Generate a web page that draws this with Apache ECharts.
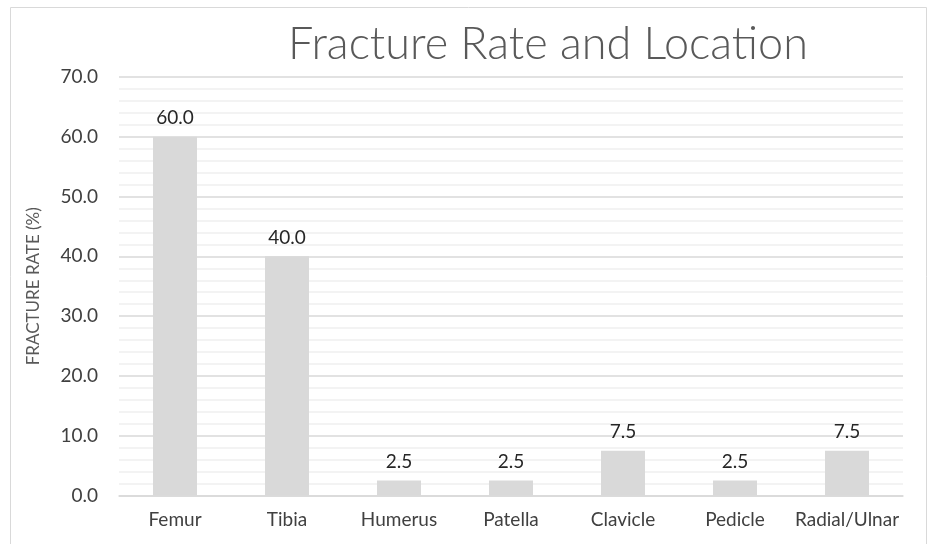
<!DOCTYPE html>
<html>
<head>
<meta charset="utf-8">
<script src="https://cdn.jsdelivr.net/npm/echarts@6/dist/echarts.min.js"></script>
<style>
  html, body { margin: 0; padding: 0; background: #fff; }
  #chart { width: 929px; height: 544px; }
</style>
</head>
<body>
<div id="chart"></div>
<script>
const categories = ['Femur', 'Tibia', 'Humerus', 'Patella', 'Clavicle', 'Pedicle', 'Radial/Ulnar'];
const fractureRate = [60.0, 40.0, 2.5, 2.5, 7.5, 2.5, 7.5];

const chart = echarts.init(document.getElementById('chart'));
const font = "Lato, 'Open Sans', sans-serif";

chart.setOption({
  animation: false,
  title: {
    text: 'Fracture Rate and Location',
    left: 543,
    textAlign: 'center',
    top: 17,
    textStyle: { fontFamily: font, fontSize: 45, fontWeight: 300, color: '#595959' }
  },
  graphic: [{
    type: 'rect',
    shape: { x: 10.5, y: 7.5, width: 916, height: 600 },
    style: { fill: 'none', stroke: '#d9d9d9', lineWidth: 1 },
    silent: true
  }],
  grid: { left: 119, right: 26, top: 77, bottom: 48.5 },
  xAxis: {
    type: 'category',
    data: categories,
    axisTick: { show: false },
    axisLine: { lineStyle: { color: '#d9d9d9', width: 1.5 } },
    axisLabel: { interval: 0, color: '#404040', fontFamily: font, fontSize: 19, margin: 15 }
  },
  yAxis: {
    type: 'value',
    min: 0,
    max: 70,
    interval: 10,
    name: 'FRACTURE RATE (%)',
    nameLocation: 'middle',
    nameGap: 77,
    nameTextStyle: { color: '#595959', fontFamily: font, fontSize: 17 },
    axisLabel: {
      color: '#404040', fontFamily: font, fontSize: 19, margin: 21,
      formatter: v => v.toFixed(1)
    },
    splitLine: { lineStyle: { color: '#d9d9d9', width: 1.5 } },
    minorTick: { show: false, splitNumber: 5 },
    minorSplitLine: { show: true, lineStyle: { color: '#f0f0f0', width: 1.5 } }
  },
  series: [{
    type: 'bar',
    data: fractureRate,
    barWidth: 44,
    itemStyle: { color: '#d9d9d9' },
    label: {
      show: true,
      position: 'top',
      distance: 9,
      color: '#262626',
      fontFamily: font,
      fontSize: 19,
      formatter: p => p.value.toFixed(1)
    }
  }]
});
</script>
</body>
</html>
